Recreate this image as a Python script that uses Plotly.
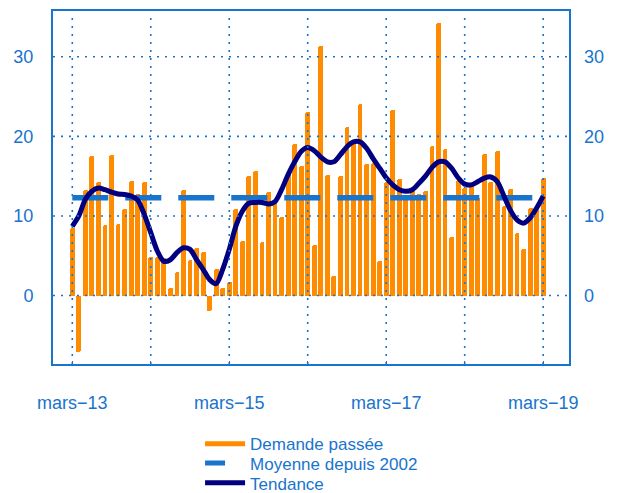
import plotly.graph_objects as go

# ---- data ----
DEMANDE = [8.5, -7.1, 13.3, 17.5, 14.3, 8.9, 17.6, 9.0, 10.9, 14.4,
           12.8, 14.3, 4.8, 4.9, 4.7, 1.0, 3.0, 13.3, 4.5, 6.0,
           5.5, -2.0, 3.3, 0.9, 1.7, 10.9, 6.9, 15.0, 15.7, 6.7,
           13.0, 11.9, 9.9, 15.5, 19.0, 16.3, 23.0, 6.3, 31.4, 15.1,
           2.4, 15.0, 21.2, 19.1, 24.1, 16.5, 16.6, 4.4, 14.3, 23.3,
           14.7, 12.5, 13.7, 12.7, 13.1, 18.8, 34.2, 18.4, 7.4, 14.5,
           13.5, 13.9, 12.3, 17.8, 14.3, 18.2, 11.3, 13.4, 7.9, 5.8,
           11.0, 10.7, 14.8]

TENDANCE = [8.7, 10.0, 12.1, 13.1, 13.5, 13.3, 13.0, 12.75, 12.7, 12.5,
            12.0, 10.2, 7.9, 5.6, 4.3, 4.5, 5.4, 6.0, 5.8, 4.5,
            3.3, 2.0, 1.5, 3.3, 5.8, 8.7, 10.6, 11.6, 11.7, 11.7,
            11.5, 11.8, 13.3, 15.2, 16.8, 18.1, 18.6, 18.2, 17.4, 16.8,
            16.8, 17.7, 18.7, 19.3, 19.3, 18.5, 17.2, 16.0, 14.8, 13.9,
            13.3, 13.1, 13.3, 14.1, 15.0, 16.1, 16.8, 16.8, 16.0, 14.8,
            14.0, 13.9, 14.3, 14.75, 14.9, 14.3, 12.5, 10.7, 9.5, 9.1,
            9.75, 11.0, 12.5]

MOYENNE = 12.3  # moyenne depuis 2002

X_TICKS = [0, 12, 24, 36, 48, 60, 72]
X_LABELS = ["mars\u221213", "", "mars\u221215", "", "mars\u221217", "", "mars\u221219"]
Y_TICKS = [0, 10, 20, 30]
SERIES_NAMES = ["Demande passée", "Moyenne depuis 2002", "Tendance"]

# ---- styles ----
ORANGE = "#FF8C00"
BLUE = "#1874CD"
NAVY = "#000080"
FONT = "Liberation Sans, Arial, sans-serif"

months = list(range(len(DEMANDE)))
moyenne = [MOYENNE for _ in months]

fig = go.Figure()
fig.add_trace(go.Bar(x=months, y=DEMANDE, width=0.74,
                     marker=dict(color=ORANGE, line=dict(width=0), cornerradius=2),
                     showlegend=False, hoverinfo="skip"))
fig.add_trace(go.Scatter(x=months, y=moyenne, mode="lines",
                         line=dict(color=BLUE, width=5.5, dash="36px,17px"),
                         showlegend=False, hoverinfo="skip"))
fig.add_trace(go.Scatter(x=months, y=TENDANCE, mode="lines",
                         line=dict(color=NAVY, width=5, shape="spline", smoothing=0.8),
                         showlegend=False, hoverinfo="skip"))
# legend entries (one legend per row to get the tight row spacing)
fig.add_trace(go.Scatter(x=[None], y=[None], mode="lines", name=SERIES_NAMES[0],
                         line=dict(color=ORANGE, width=5), legend="legend"))
fig.add_trace(go.Scatter(x=[None], y=[None], mode="lines", name=SERIES_NAMES[1],
                         line=dict(color=BLUE, width=5, dash="20px,40px"), legend="legend2"))
fig.add_trace(go.Scatter(x=[None], y=[None], mode="lines", name=SERIES_NAMES[2],
                         line=dict(color=NAVY, width=5), legend="legend3"))
fig.add_trace(go.Scatter(x=[None], y=[None], yaxis="y2", showlegend=False, hoverinfo="skip"))

YR = [-8.6, 35.75]
XR = [-2.95, 75.95]

shapes = []
for v in X_TICKS:
    shapes.append(dict(type="line", xref="x", yref="paper", x0=v, x1=v, y0=0, y1=0.985,
                       line=dict(color=BLUE, width=1.6, dash="2px,6px"), layer="above"))
for h in Y_TICKS:
    shapes.append(dict(type="line", xref="paper", yref="y", x0=0, x1=1, y0=h, y1=h,
                       line=dict(color=BLUE, width=1.6, dash="2px,6px"), layer="above"))

leg_common = dict(x=0.285, xanchor="left", yanchor="top", orientation="v",
                  itemwidth=40, bgcolor="rgba(0,0,0,0)",
                  font=dict(family=FONT, size=17, color=BLUE))

fig.update_layout(
    width=609, height=485,
    margin=dict(l=45, r=48, t=3, b=129, autoexpand=False),
    paper_bgcolor="white", plot_bgcolor="white",
    font=dict(family=FONT, size=18, color=BLUE),
    bargap=0,
    shapes=shapes,
    xaxis=dict(range=XR, tickmode="array", tickvals=X_TICKS, ticktext=X_LABELS,
               showgrid=False, zeroline=False, showline=True, mirror=True,
               linecolor=BLUE, linewidth=2, ticks="inside", ticklen=3,
               tickcolor=BLUE, tickwidth=1, ticklabelstandoff=21,
               tickfont=dict(family=FONT, size=18, color=BLUE)),
    yaxis=dict(range=YR, tickmode="array", tickvals=Y_TICKS,
               showgrid=False, zeroline=False, showline=True, mirror=True,
               linecolor=BLUE, linewidth=2, ticks="", ticklabelstandoff=14,
               tickfont=dict(family=FONT, size=18, color=BLUE)),
    yaxis2=dict(range=YR, overlaying="y", side="right", tickmode="array", tickvals=Y_TICKS,
                showgrid=False, zeroline=False, showline=False, ticks="",
                ticklabelstandoff=14,
                tickfont=dict(family=FONT, size=18, color=BLUE)),
    legend=dict(y=-0.176, **leg_common),
    legend2=dict(y=-0.231, **leg_common),
    legend3=dict(y=-0.287, **leg_common),
)

fig.write_html("out.html")
